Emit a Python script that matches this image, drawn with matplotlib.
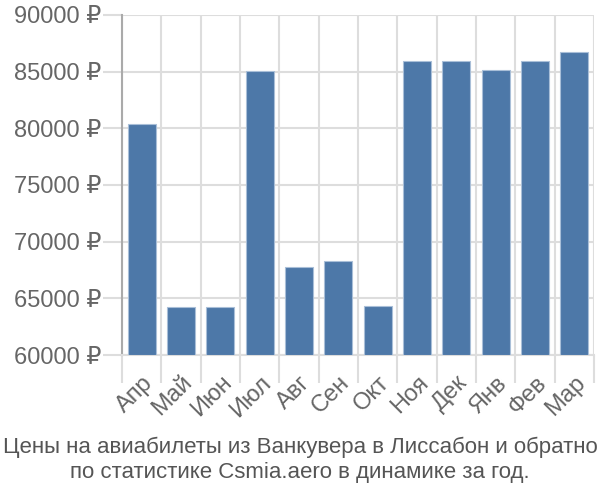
import matplotlib
matplotlib.use("Agg")
import matplotlib.pyplot as plt
import numpy as np

months = ["Апр", "Май", "Июн", "Июл", "Авг", "Сен", "Окт", "Ноя", "Дек", "Янв", "Фев", "Мар"]
prices = [80400, 64200, 64200, 85050, 67750, 68300, 64300, 85900, 85900, 85150, 85900, 86700]
yticks = [60000, 65000, 70000, 75000, 80000, 85000, 90000]
title = "Цены на авиабилеты из Ванкувера в Лиссабон и обратно\nпо статистике Csmia.aero в динамике за год."

plt.rcParams['font.family'] = ['Liberation Sans', 'DejaVu Sans']

fig = plt.figure(figsize=(6, 5), dpi=100)
ax = fig.add_axes([122/600, 1-355/500, (594-122)/600, 340/500])

x = np.arange(len(months))
ax.bar(x, [p - 60000 for p in prices], bottom=60000, width=0.72, color="#4d78a8",
       edgecolor="#a9bfd8", linewidth=0.8, zorder=3)

ax.set_xlim(-0.5, len(months) - 0.5)
ax.set_ylim(60000, 90000)
ax.set_yticks(yticks)
ax.set_yticklabels([f"{v} ₽" for v in yticks])
ax.set_xticks(x)
ax.set_xticklabels(months, rotation=45, ha="right", rotation_mode="anchor")
ax.set_xticks(np.arange(-0.5, len(months)), minor=True)

ax.tick_params(axis="x", which="major", length=0, pad=12, labelsize=17, labelcolor="#666666")
ax.tick_params(axis="x", which="minor", length=20, color="#dddddd", width=1.5)
ax.tick_params(axis="y", length=14, color="#dddddd", width=1.5, labelsize=17, labelcolor="#666666", pad=1)

ax.grid(True, axis="y", color="#dddddd", linewidth=1.5, zorder=0)
ax.grid(True, axis="x", which="minor", color="#dddddd", linewidth=1.5, zorder=0)
ax.grid(False, axis="x", which="major")

for s in ["top", "right"]:
    ax.spines[s].set_visible(False)
ax.spines["left"].set_color("#aaaaaa")
ax.spines["left"].set_linewidth(1.5)
ax.spines["left"].set_bounds(60000, 90000)
ax.spines["bottom"].set_color("#dddddd")
ax.spines["bottom"].set_linewidth(1.5)

fig.text(0.5, 1-460/500, title, ha="center", va="center", fontsize=16, color="#555555", linespacing=1.27)

fig.savefig("out.png", dpi=100)
